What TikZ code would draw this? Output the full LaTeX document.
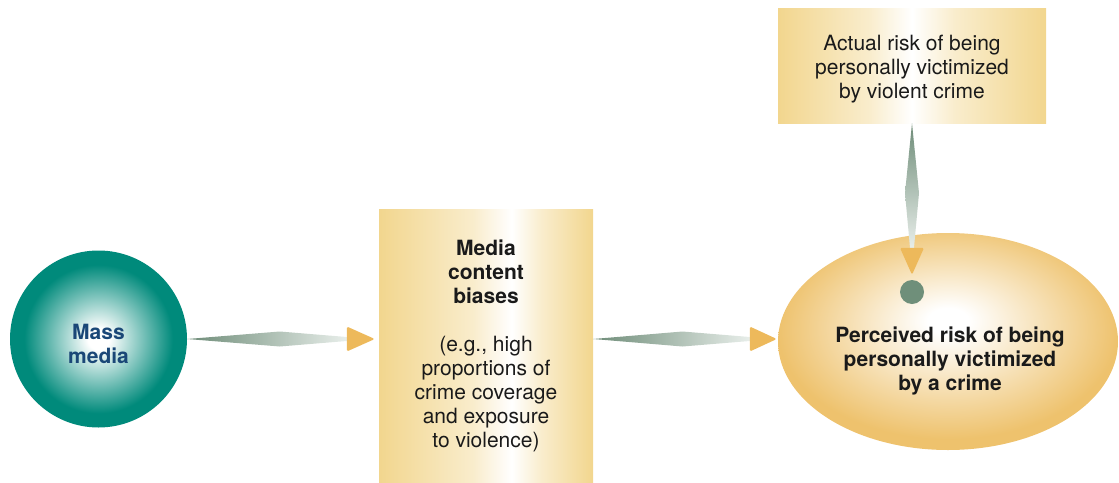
\documentclass[tikz,border=0pt]{standalone}
\usepackage{fontspec}
\setmainfont{TeX Gyre Heros}
\usetikzlibrary{calc,shapes.geometric}

\definecolor{tealdark}{HTML}{008A7B}
\definecolor{boxtan}{HTML}{F2D68E}
\definecolor{ovalorange}{HTML}{EEC26D}
\definecolor{headorange}{HTML}{EDB95B}
\definecolor{shaftdark}{HTML}{6E8C78}
\definecolor{shaftlight}{HTML}{E8EEEA}
\definecolor{dotgreen}{HTML}{6F8F7A}
\definecolor{massblue}{HTML}{1A4777}
\definecolor{inktext}{HTML}{1A1A1A}

\pgfdeclareradialshading{tealglow}{\pgfpoint{0bp}{0bp}}{color(0bp)=(white); color(3bp)=(white); color(21bp)=(tealdark); color(50bp)=(tealdark)}
\pgfdeclareradialshading{ovalglow}{\pgfpoint{0bp}{5bp}}{color(0bp)=(white); color(3bp)=(white); color(25bp)=(ovalorange); color(50bp)=(ovalorange)}
\pgfdeclarehorizontalshading{tanbar}{100bp}{color(0bp)=(boxtan); color(25bp)=(boxtan); color(42bp)=(boxtan!45!white); color(50bp)=(white); color(58bp)=(boxtan!45!white); color(75bp)=(boxtan); color(100bp)=(boxtan)}
\pgfdeclarehorizontalshading{tanbarright}{100bp}{color(0bp)=(boxtan); color(25bp)=(boxtan); color(47bp)=(boxtan!45!white); color(56bp)=(white); color(63bp)=(boxtan!45!white); color(75bp)=(boxtan); color(100bp)=(boxtan)}

\tikzset{
    txt/.style={font=\fontsize{21}{24}\selectfont, text=inktext, align=center, inner sep=0pt},
    tanbox/.style={rectangle, shade, inner sep=0pt},
    headfill/.style={fill=headorange, rounded corners=1.5pt}
}

\begin{document}
\begin{tikzpicture}[x=1pt,y=-1pt]
        \useasboundingbox (0,0) rectangle (1119,482);

        \node[circle, shade, shading=tealglow, minimum size=177pt, inner sep=0pt] (mass) at (98.5,339) {};
        \node[txt, text=massblue, font=\fontsize{21}{24}\selectfont\bfseries] (masstext) at (98.5,344) {Mass\\media};

        \node[tanbox, shading=tanbarright, minimum width=214pt, minimum height=273pt] (bias) at (486,345.5) {};
        \node[txt] (biastext) at (486,346) {\textbf{Media}\\\textbf{content}\\\textbf{biases}\\[24pt](e.g., high\\proportions of\\crime coverage\\and exposure\\to violence)};

        \node[tanbox, shading=tanbar, minimum width=268pt, minimum height=115pt] (actual) at (912,65.5) {};
        \node[txt] (actualtext) at (912,69) {Actual risk of being\\personally victimized\\by violent crime};

        \node[ellipse, shade, shading=ovalglow, minimum width=340pt, minimum height=217pt, inner sep=0pt] (perc) at (948,341.5) {};
        \node[txt, font=\fontsize{21}{24}\selectfont\bfseries] (perctext) at (950,361) {Perceived risk of being\\personally victimized\\by a crime};

        \node[circle, fill=dotgreen, minimum size=24pt, inner sep=0pt] (dot) at (912,292) {};

        \coordinate (t1) at ($(bias.west |- mass.east)+(-4,0)$);
        \coordinate (b1) at ($(t1)+(-28,0)$);
        \shade[left color=shaftdark, right color=shaftlight] (mass.east) -- ($(mass.east)!0.58!(b1)+(0,-7.5)$) -- ($(b1)+(0,-2)$) -- ($(b1)+(0,2)$) -- ($(mass.east)!0.58!(b1)+(0,7.5)$) -- cycle;
        \fill[headfill] ($(b1)+(0,-12.5)$) -- (t1) -- ($(b1)+(0,12.5)$) -- cycle;

        \coordinate (s2) at (bias.east |- mass.east);
        \coordinate (t2) at ($(perc.west |- mass.east)+(-1,0)$);
        \coordinate (b2) at ($(t2)+(-27,0)$);
        \shade[left color=shaftdark, right color=shaftlight] (s2) -- ($(s2)!0.57!(b2)+(0,-7.5)$) -- ($(b2)+(0,-2)$) -- ($(b2)+(0,2)$) -- ($(s2)!0.57!(b2)+(0,7.5)$) -- cycle;
        \fill[headfill] ($(b2)+(0,-12.5)$) -- (t2) -- ($(b2)+(0,12.5)$) -- cycle;

        \coordinate (t3) at ($(dot.north)+(0,-5)$);
        \coordinate (b3) at ($(t3)+(0,-27)$);
        \shade[top color=shaftdark, bottom color=shaftlight] (actual.south) -- ($(actual.south)!0.56!(b3)+(-7,0)$) -- ($(b3)+(-2,0)$) -- ($(b3)+(2,0)$) -- ($(actual.south)!0.56!(b3)+(7,0)$) -- cycle;
        \fill[headfill] ($(b3)+(-12,0)$) -- (t3) -- ($(b3)+(12,0)$) -- cycle;
    \end{tikzpicture}
\end{document}
